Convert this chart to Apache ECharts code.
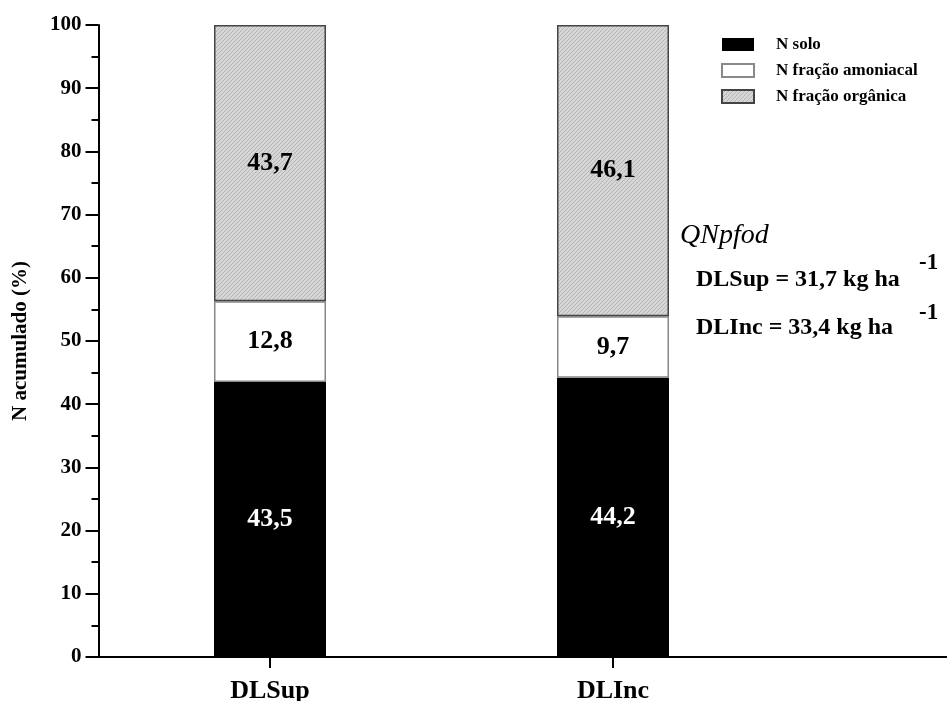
<!DOCTYPE html>
<html><head><meta charset="utf-8">
<script src="https://cdn.jsdelivr.net/npm/echarts@6/dist/echarts.min.js"></script>
<style>html,body{margin:0;padding:0;background:#fff}#c{width:947px;height:701px}</style>
</head><body><div id="c"></div>
<script>
var categories = ['DLSup', 'DLInc'];
var nSolo = [43.5, 44.2];
var nAmoniacal = [12.8, 9.7];
var nOrganica = [43.7, 46.1];
var yTicks = [0, 10, 20, 30, 40, 50, 60, 70, 80, 90, 100];
var seriesNames = ['N solo', 'N fração amoniacal', 'N fração orgânica'];

var FONT = '"Liberation Serif", "Times New Roman", serif';

function makePattern() {
  var c = document.createElement('canvas');
  c.width = 4; c.height = 4;
  var ctx = c.getContext('2d');
  ctx.fillStyle = '#d6d6d6';
  ctx.fillRect(0, 0, 4, 4);
  ctx.fillStyle = '#b6b6b6';
  for (var i = 0; i < 4; i++) { ctx.fillRect(i, (3 - i), 1, 1); }
  return c;
}
var pattern = { image: makePattern(), repeat: 'repeat' };

function fmt(p) { return String(p.value).replace('.', ','); }

var chart = echarts.init(document.getElementById('c'), null, { renderer: 'canvas' });
var lbl = { show: true, position: 'inside', fontFamily: FONT, fontWeight: 'bold', fontSize: 26, formatter: fmt };

chart.setOption({
  animation: false,
  backgroundColor: '#fff',
  grid: [
    { left: 98.5, right: 162.5, top: 25, bottom: 44, containLabel: false, outerBoundsMode: 'none' },
    { left: 98.5, right: 0, top: 25, bottom: 44, containLabel: false, outerBoundsMode: 'none' }
  ],
  legend: {
    orient: 'vertical', left: 716, top: 31,
    itemWidth: 32, itemHeight: 13, itemGap: 9,
    icon: 'rect',
    data: seriesNames,
    textStyle: { fontFamily: FONT, fontWeight: 'bold', fontSize: 17, color: '#000', padding: [0, 0, 0, 17] }
  },
  xAxis: [{
    type: 'category', gridIndex: 0, data: categories, boundaryGap: true,
    splitLine: { show: false },
    axisLine: { show: false },
    axisTick: { show: true, alignWithLabel: true, length: 11, lineStyle: { color: '#000', width: 2 } },
    axisLabel: { margin: 21, fontFamily: FONT, fontWeight: 'bold', fontSize: 26, color: '#000' }
  }, {
    type: 'value', gridIndex: 1, min: 0, max: 1,
    splitLine: { show: false },
    axisLine: { show: true, onZero: false, lineStyle: { color: '#000', width: 2 } },
    axisTick: { show: false }, axisLabel: { show: false }
  }],
  yAxis: [{
    type: 'value', gridIndex: 0, min: 0, max: 100, interval: 10,
    name: 'N acumulado (%)', nameLocation: 'middle', nameGap: 67, nameRotate: 90,
    nameTextStyle: { fontFamily: FONT, fontWeight: 'bold', fontSize: 21, color: '#000' },
    splitLine: { show: false },
    axisLine: { show: true, lineStyle: { color: '#000', width: 2 } },
    axisTick: { show: true, length: 13, lineStyle: { color: '#000', width: 2 } },
    minorTick: { show: true, splitNumber: 2, length: 7, lineStyle: { color: '#000', width: 2 } },
    axisLabel: {
      margin: 17, fontFamily: FONT, fontWeight: 'bold', fontSize: 21, color: '#000',
      formatter: function (v) { return yTicks.indexOf(v) >= 0 ? String(v) : ''; }
    }
  }, {
    type: 'value', gridIndex: 1, min: 0, max: 1, show: false
  }],
  series: [
    { name: seriesNames[0], type: 'bar', stack: 's', barWidth: 112, data: nSolo,
      itemStyle: { color: '#000' }, label: Object.assign({}, lbl, { color: '#fff' }) },
    { name: seriesNames[1], type: 'bar', stack: 's', barWidth: 112, data: nAmoniacal,
      itemStyle: { color: '#fff', borderColor: '#888', borderWidth: 1.5 }, label: Object.assign({}, lbl, { color: '#000' }) },
    { name: seriesNames[2], type: 'bar', stack: 's', barWidth: 112, data: nOrganica,
      itemStyle: { color: pattern, borderColor: '#444', borderWidth: 1.5 }, label: Object.assign({}, lbl, { color: '#000' }) }
  ],
  graphic: [
    { type: 'text', left: 680, top: 222, style: { text: 'QNpfod', fontFamily: FONT, fontStyle: 'italic', fontSize: 28, fill: '#000' } },
    { type: 'text', left: 696, top: 268, style: { text: 'DLSup = 31,7 kg ha', fontFamily: FONT, fontWeight: 'bold', fontSize: 24, fill: '#000' } },
    { type: 'text', left: 919, top: 252, style: { text: '-1', fontFamily: FONT, fontWeight: 'bold', fontSize: 23, fill: '#000' } },
    { type: 'text', left: 696, top: 316, style: { text: 'DLInc = 33,4 kg ha', fontFamily: FONT, fontWeight: 'bold', fontSize: 24, fill: '#000' } },
    { type: 'text', left: 919, top: 302, style: { text: '-1', fontFamily: FONT, fontWeight: 'bold', fontSize: 23, fill: '#000' } }
  ]
});
</script></body></html>
